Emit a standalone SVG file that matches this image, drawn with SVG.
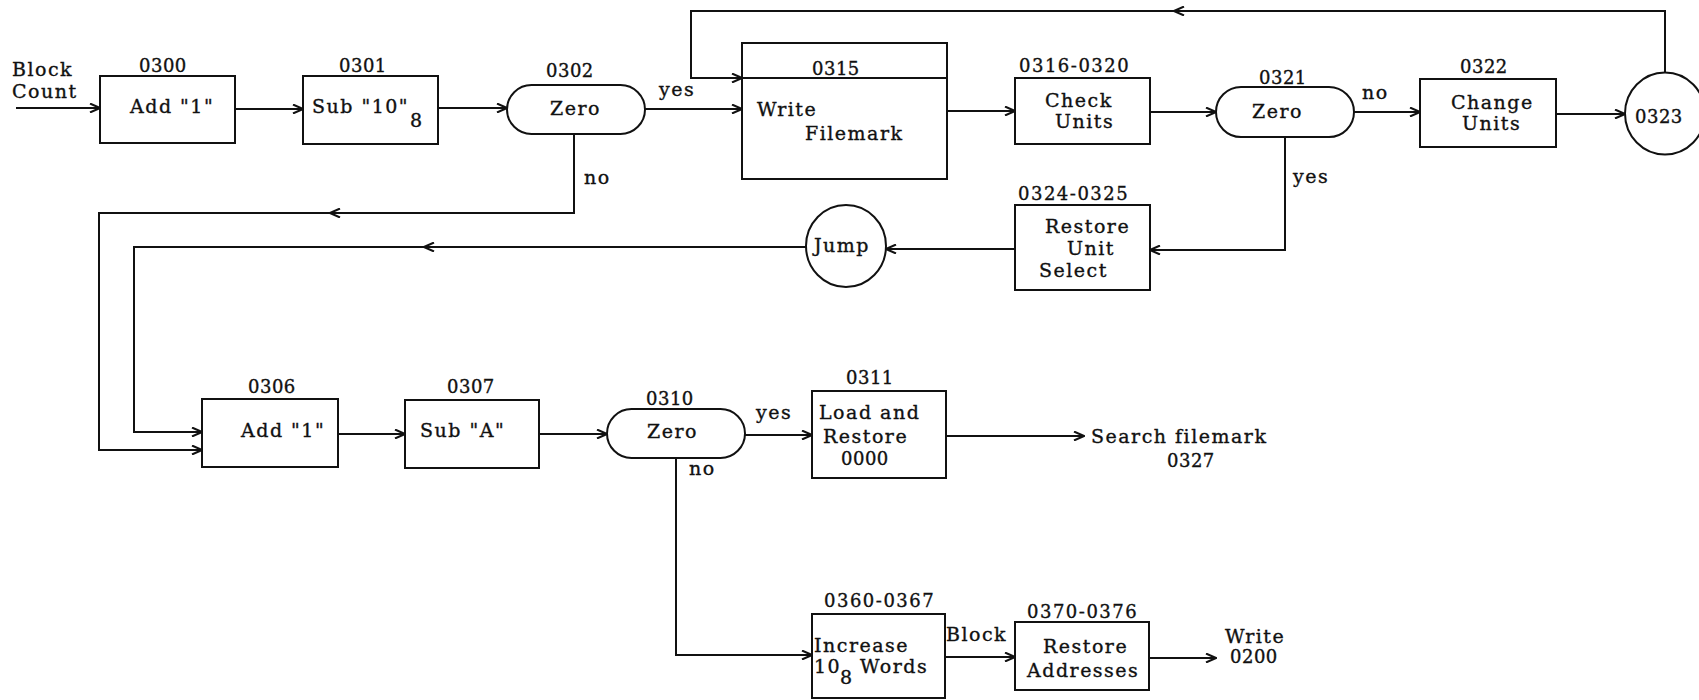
<svg xmlns="http://www.w3.org/2000/svg" width="1699" height="700" viewBox="0 0 1699 700">
<style>
  rect.b, ellipse.b { fill: #fff; stroke: #111; stroke-width: 2; }
  .c path { fill: none; stroke: #111; stroke-width: 2; }
  text { font-family: "DejaVu Serif", "Liberation Serif", serif; fill: #111; stroke: #111; stroke-width: 0.35px; }
  .t { font-size: 19px; letter-spacing: 1.5px; }
  .n { font-size: 18px; letter-spacing: 0.5px; }
  .r { font-size: 18px; letter-spacing: 1.5px; }
  .s { font-size: 19px; }
</style>
<defs>
  <marker id="ah" viewBox="0 0 12 10" refX="11" refY="5" markerWidth="12" markerHeight="10" markerUnits="userSpaceOnUse" orient="auto">
    <path d="M1,0.5 L11,5 L1,9.5" fill="none" stroke="#111" stroke-width="2"/>
  </marker>
</defs>
<rect width="1699" height="700" fill="#fff"/>

<g id="connectors" class="c">
  <path d="M16,108 H100" marker-end="url(#ah)"/>
  <path d="M235,109 H303" marker-end="url(#ah)"/>
  <path d="M438,108 H507" marker-end="url(#ah)"/>
  <path d="M645,109 H742" marker-end="url(#ah)"/>
  <path d="M574,134 V213 H330" marker-end="url(#ah)"/>
  <path d="M331,213 H99 V450 H202" marker-end="url(#ah)"/>
  <path d="M947,111 H1015" marker-end="url(#ah)"/>
  <path d="M1150,112 H1216" marker-end="url(#ah)"/>
  <path d="M1354,112 H1420" marker-end="url(#ah)"/>
  <path d="M1556,114 H1625" marker-end="url(#ah)"/>
  <path d="M1665,72.5 V11 H1174" marker-end="url(#ah)"/>
  <path d="M1175,11 H691 V78 H742" marker-end="url(#ah)"/>
  <path d="M1285,137 V250 H1150" marker-end="url(#ah)"/>
  <path d="M1015,249 H886" marker-end="url(#ah)"/>
  <path d="M806,247 H424" marker-end="url(#ah)"/>
  <path d="M425,247 H134 V432 H202" marker-end="url(#ah)"/>
  <path d="M338,434 H405" marker-end="url(#ah)"/>
  <path d="M539,434 H607" marker-end="url(#ah)"/>
  <path d="M745,435 H812" marker-end="url(#ah)"/>
  <path d="M946,436 H1084" marker-end="url(#ah)"/>
  <path d="M676,458 V655 H812" marker-end="url(#ah)"/>
  <path d="M945,657 H1015" marker-end="url(#ah)"/>
  <path d="M1149,658 H1216" marker-end="url(#ah)"/>
</g>

<g id="labels">
  <text class="t" x="12" y="76">Block</text>
  <text class="t" x="12" y="98">Count</text>
  <text class="t" x="659" y="96">yes</text>
  <text class="t" x="584" y="184">no</text>
  <text class="t" x="1362" y="99">no</text>
  <text class="t" x="1293" y="183">yes</text>
  <text class="t" x="756" y="419">yes</text>
  <text class="t" x="689" y="475">no</text>
  <text class="t" x="946" y="641">Block</text>
  <text class="t" x="1091" y="443">Search filemark</text>
  <text class="n" x="1167" y="467">0327</text>
  <text class="t" x="1225" y="643">Write</text>
  <text class="n" x="1230" y="663">0200</text>
</g>

<g id="n0300">
  <rect class="b" x="100" y="76" width="135" height="67"/>
  <text class="n" x="139" y="72">0300</text>
  <text class="t" x="130" y="113">Add "1"</text>
</g>
<g id="n0301">
  <rect class="b" x="303" y="76" width="135" height="68"/>
  <text class="n" x="339" y="72">0301</text>
  <text class="t" x="312" y="113">Sub "10"</text>
  <text class="s" x="410" y="127">8</text>
</g>
<g id="n0302">
  <rect class="b" x="507" y="85" width="138" height="49" rx="24.5" ry="24.5"/>
  <text class="n" x="546" y="77">0302</text>
  <text class="t" x="550" y="115">Zero</text>
</g>
<g id="n0315">
  <rect class="b" x="742" y="43" width="205" height="136"/>
  <path d="M742,78 H947" stroke="#111" stroke-width="2" fill="none"/>
  <text class="n" x="812" y="75">0315</text>
  <text class="t" x="757" y="116">Write</text>
  <text class="t" x="805" y="140">Filemark</text>
</g>
<g id="n0316">
  <rect class="b" x="1015" y="78" width="135" height="66"/>
  <text class="r" x="1019" y="72">0316-0320</text>
  <text class="t" x="1045" y="107">Check</text>
  <text class="t" x="1055" y="128">Units</text>
</g>
<g id="n0321">
  <rect class="b" x="1216" y="87" width="138" height="50" rx="25" ry="25"/>
  <text class="n" x="1259" y="84">0321</text>
  <text class="t" x="1252" y="118">Zero</text>
</g>
<g id="n0322">
  <rect class="b" x="1420" y="79" width="136" height="68"/>
  <text class="n" x="1460" y="73">0322</text>
  <text class="t" x="1451" y="109">Change</text>
  <text class="t" x="1462" y="130">Units</text>
</g>
<g id="n0323">
  <ellipse class="b" cx="1665" cy="113.5" rx="40" ry="41"/>
  <text class="n" x="1635" y="123">0323</text>
</g>
<g id="n0324">
  <rect class="b" x="1015" y="205" width="135" height="85"/>
  <text class="r" x="1018" y="200">0324-0325</text>
  <text class="t" x="1045" y="233">Restore</text>
  <text class="t" x="1067" y="255">Unit</text>
  <text class="t" x="1039" y="277">Select</text>
</g>
<g id="jump">
  <ellipse class="b" cx="846" cy="246" rx="40" ry="41"/>
  <text class="t" x="814" y="252">Jump</text>
</g>
<g id="n0306">
  <rect class="b" x="202" y="399" width="136" height="68"/>
  <text class="n" x="248" y="393">0306</text>
  <text class="t" x="241" y="437">Add "1"</text>
</g>
<g id="n0307">
  <rect class="b" x="405" y="400" width="134" height="68"/>
  <text class="n" x="447" y="393">0307</text>
  <text class="t" x="420" y="437">Sub "A"</text>
</g>
<g id="n0310">
  <rect class="b" x="607" y="409" width="138" height="49" rx="24.5" ry="24.5"/>
  <text class="n" x="646" y="405">0310</text>
  <text class="t" x="647" y="438">Zero</text>
</g>
<g id="n0311">
  <rect class="b" x="812" y="391" width="134" height="87"/>
  <text class="n" x="846" y="384">0311</text>
  <text class="t" x="819" y="419">Load and</text>
  <text class="t" x="823" y="443">Restore</text>
  <text class="n" x="841" y="465">0000</text>
</g>
<g id="n0360">
  <rect class="b" x="812" y="614" width="133" height="84"/>
  <text class="r" x="824" y="607">0360-0367</text>
  <text class="t" x="814" y="652">Increase</text>
  <text class="t" x="814" y="673">10</text>
  <text class="s" x="840" y="684">8</text>
  <text class="t" x="860" y="673">Words</text>
</g>
<g id="n0370">
  <rect class="b" x="1015" y="622" width="134" height="68"/>
  <text class="r" x="1027" y="618">0370-0376</text>
  <text class="t" x="1043" y="653">Restore</text>
  <text class="t" x="1027" y="677">Addresses</text>
</g>
</svg>
